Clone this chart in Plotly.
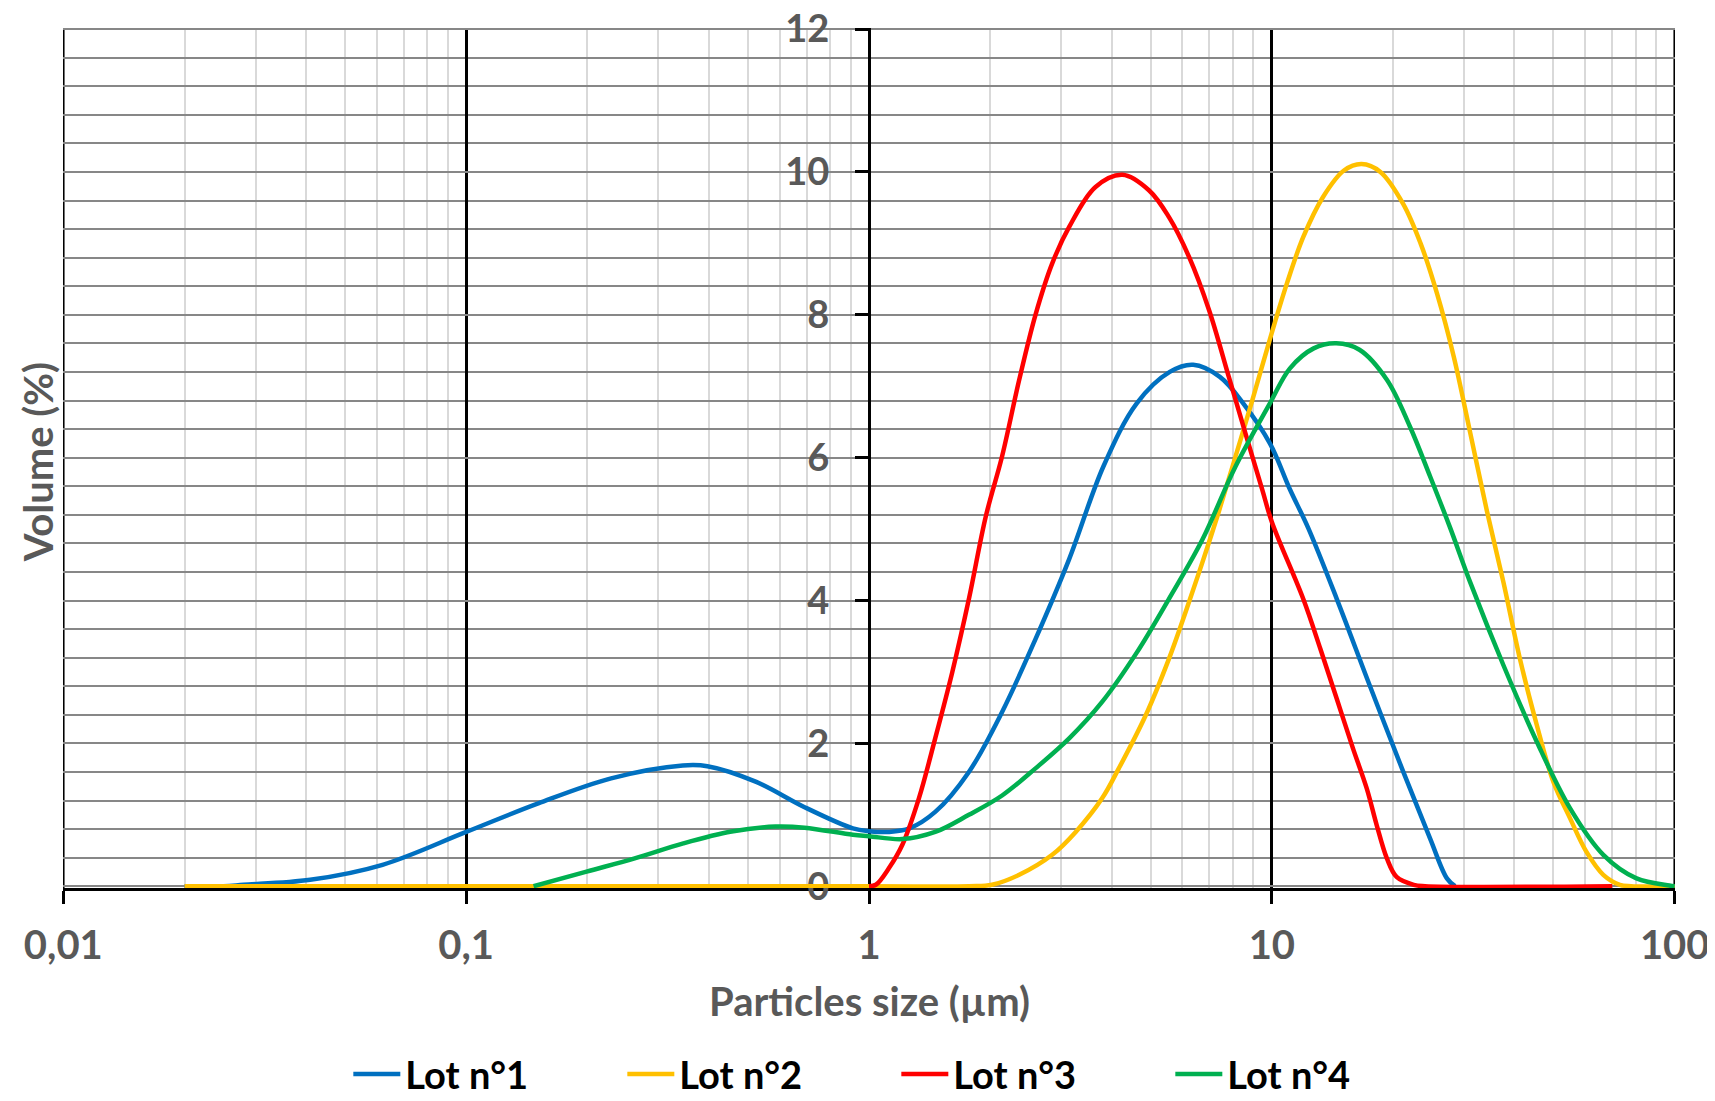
import plotly.graph_objects as go

# ---- data ----
lot1_x = [0.02, 0.025, 0.028, 0.041, 0.062, 0.1, 0.151, 0.229, 0.345, 0.397, 0.525, 0.69, 0.912, 1.0, 1.12,
          1.26, 1.46, 1.77, 2.14, 2.59, 3.14, 3.82, 4.62, 5.58, 6.38, 7.43, 8.49, 9.89, 11.1, 12.3, 14.5,
          17.5, 21.2, 24.7, 27.2, 28.5]
lot1_y = [0, 0, 0.02, 0.09, 0.30, 0.76, 1.16, 1.51, 1.69, 1.68, 1.46, 1.11, 0.81, 0.77, 0.76,
          0.81, 1.04, 1.6, 2.44, 3.46, 4.58, 5.88, 6.76, 7.20, 7.30, 7.13, 6.76, 6.20, 5.55, 5.02, 4.02,
          2.81, 1.60, 0.67, 0.11, 0]

lot2_x = [0.02, 0.1, 1.0, 1.77, 2.02, 2.36, 2.85, 3.26, 3.79, 4.17, 4.86, 5.55, 6.1, 6.72, 7.39, 8.13,
          8.95, 10.0, 10.9, 11.97, 13.4, 15.1, 16.7, 18.6, 21.2, 23.4, 25.7, 28.3, 31.1, 34.2, 37.6,
          41.3, 45.5, 50.0, 55.0, 60.4, 66.5, 73.1, 78, 100]
lot2_y = [0, 0, 0, 0, 0.02, 0.16, 0.44, 0.76, 1.23, 1.65, 2.39, 3.18, 3.83, 4.53, 5.25, 6.02,
          6.81, 7.75, 8.44, 9.09, 9.65, 10.02, 10.11, 10.0, 9.55, 9.0, 8.30, 7.41, 6.34, 5.25, 4.25,
          3.18, 2.25, 1.46, 0.95, 0.48, 0.16, 0.02, 0, 0]

lot3_x = [1.0, 1.04, 1.12, 1.21, 1.33, 1.46, 1.61, 1.77, 1.95, 2.14, 2.36, 2.59, 2.85, 3.14, 3.65, 4.26,
          4.96, 5.55, 6.23, 6.99, 7.82, 8.6, 9.47, 10.0, 11.97, 13.2, 14.5, 15.9, 17.2, 18.2, 19.3,
          20.4, 22.5, 24, 70]
lot3_y = [0, 0.02, 0.25, 0.58, 1.23, 2.07, 3.0, 4.02, 5.18, 6.02, 7.09, 8.0, 8.72, 9.23, 9.79, 9.96,
          9.74, 9.37, 8.81, 8.06, 7.13, 6.34, 5.55, 5.1, 4.02, 3.32, 2.62, 1.93, 1.37, 0.86, 0.39,
          0.13, 0.02, 0, 0]

lot4_x = [0.147, 0.199, 0.262, 0.346, 0.456, 0.586, 0.692, 0.912, 1.0, 1.21, 1.46, 1.77, 2.14, 2.59,
          3.14, 3.79, 4.62, 5.55, 6.72, 8.13, 9.89, 11.09, 12.7, 14.45, 16.5, 19.3, 22.0, 24.7, 27.7,
          31.1, 37.6, 45.5, 55.0, 66.5, 80.4, 97, 100]
lot4_y = [0, 0.205, 0.39, 0.60, 0.765, 0.835, 0.82, 0.72, 0.70, 0.66, 0.76, 1.0, 1.27, 1.65,
          2.07, 2.58, 3.27, 4.02, 4.85, 5.88, 6.76, 7.25, 7.53, 7.60, 7.51, 7.09, 6.44, 5.74, 5.02,
          4.25, 3.09, 2.02, 1.09, 0.44, 0.11, 0.01, 0]

series_names = ["Lot n°1", "Lot n°2", "Lot n°3", "Lot n°4"]
series_colors = ["#0070C0", "#FFC000", "#FF0000", "#00B050"]

x_tickvals = [0.01, 0.1, 1, 10, 100]
x_ticktext = ["0,01", "0,1", "1", "10", "100"]
y_tickvals = [0, 2, 4, 6, 8, 10, 12]

# ---- figure ----
FONT = "Lato"
GREY_TXT = "#595959"
FS = 40

fig = go.Figure()
for xs, ys, name, col in zip([lot1_x, lot2_x, lot3_x, lot4_x],
                             [lot1_y, lot2_y, lot3_y, lot4_y],
                             series_names, series_colors):
    fig.add_trace(go.Scatter(x=xs, y=ys, name=name, mode="lines",
                             line=dict(color=col, width=4.5, shape="spline", smoothing=1.0)))

minor_x = [m * 10 ** e for e in (-2, -1, 0, 1) for m in range(2, 10)]

fig.update_layout(
    width=1707, height=1093,
    margin=dict(l=55, r=40, t=20, b=213, autoexpand=False),
    plot_bgcolor="white", paper_bgcolor="white",
    font=dict(family=FONT, size=FS, color=GREY_TXT, weight="bold"),
    showlegend=True,
    legend=dict(orientation="h", x=0.177, xanchor="left", y=-0.2165, yanchor="middle",
                font=dict(family=FONT, size=38, color="black", weight="bold"),
                entrywidth=212, entrywidthmode="pixels", itemwidth=47,
                bgcolor="rgba(0,0,0,0)"),
    xaxis=dict(type="log", range=[-2.0008, 2.0008], tickmode="array", tickvals=x_tickvals, ticktext=x_ticktext,
               tickfont=dict(family=FONT, size=FS, color=GREY_TXT, weight="bold"),
               showline=True, linecolor="black", linewidth=3,
               ticks="outside", ticklen=13, tickwidth=3, tickcolor="black",
               showgrid=True, gridcolor="black", gridwidth=2.5,
               minor=dict(tickmode="array", tickvals=minor_x, showgrid=True,
                          gridcolor="#d9d9d9", gridwidth=1.5, ticks=""),
               zeroline=False, layer="below traces", ticklabelstandoff=7,
               ticklabeloverflow="allow"),
    yaxis=dict(range=[-0.025, 12.015], tickmode="array", tickvals=y_tickvals,
               tickfont=dict(family=FONT, size=38, color=GREY_TXT, weight="bold"),
               anchor="free", position=0.5,
               showline=True, linecolor="black", linewidth=3,
               ticks="outside", ticklen=13, tickwidth=3, tickcolor="black",
               showgrid=True, gridcolor="#878787", gridwidth=1.5,
               minor=dict(tick0=0, dtick=0.4, showgrid=True, gridcolor="#878787", gridwidth=1.5, ticks=""),
               zeroline=False, layer="below traces", ticklabelstandoff=18,
               ticklabeloverflow="allow"),
    shapes=[
        dict(type="line", xref="x", yref="paper", x0=0.01, x1=0.01, y0=0, y1=1,
             line=dict(color="black", width=2.5), layer="below"),
        dict(type="line", xref="x", yref="paper", x0=100, x1=100, y0=0, y1=1,
             line=dict(color="black", width=2.5), layer="below"),
    ],
    annotations=[
        dict(text="Volume (%)", xref="paper", yref="paper", x=-0.0155, y=0.495,
             xanchor="center", yanchor="middle", textangle=-90, showarrow=False,
             font=dict(family=FONT, size=FS, color=GREY_TXT, weight="bold")),
        dict(text="Particles size (µm)", xref="paper", yref="paper", x=0.5, y=-0.131,
             xanchor="center", yanchor="middle", showarrow=False,
             font=dict(family=FONT, size=FS, color=GREY_TXT, weight="bold")),
    ],
)

fig.write_html("out.html")
